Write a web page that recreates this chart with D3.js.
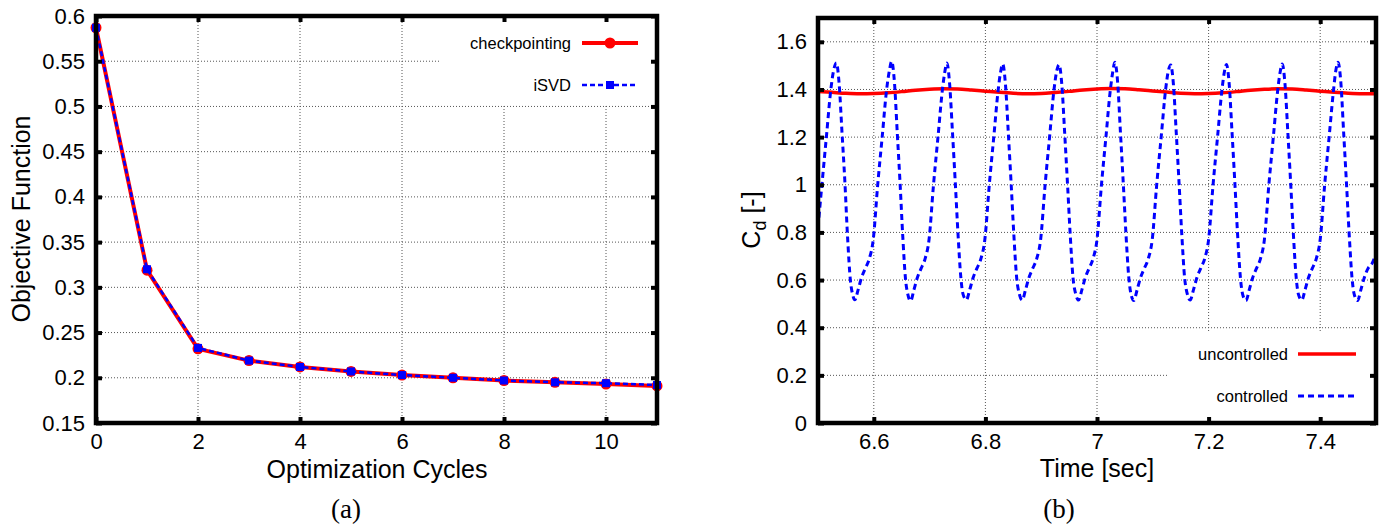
<!DOCTYPE html>
<html>
<head>
<meta charset="utf-8">
<script src="https://cdn.jsdelivr.net/npm/d3@7"></script>
<style>
  body { margin: 0; background: #fff; }
  text { font-family: "Liberation Sans", Arial, sans-serif; fill: #000; }
  .caption { font-family: "Liberation Serif", "DejaVu Serif", serif; }
</style>
</head>
<body>
<svg id="chart" width="1400" height="530"></svg>
<script>
// ---- (a) objective function vs optimization cycle
const cycles = [0, 1, 2, 3, 4, 5, 6, 7, 8, 9, 10, 11]
const checkpointing = [0.587, 0.319, 0.232, 0.219, 0.212, 0.207, 0.203, 0.200, 0.197, 0.195, 0.193, 0.191]
const isvd = [0.587, 0.320, 0.233, 0.219, 0.212, 0.207, 0.203, 0.200, 0.197, 0.195, 0.194, 0.192]
const cycleTicks = [0, 2, 4, 6, 8, 10]
const objTicks = [0.15, 0.2, 0.25, 0.3, 0.35, 0.4, 0.45, 0.5, 0.55, 0.6]

// ---- (b) drag coefficient vs time
const uncTime = [6.500, 6.525, 6.550, 6.575, 6.600, 6.625, 6.650, 6.675, 6.700, 6.725,
  6.750, 6.775, 6.800, 6.825, 6.850, 6.875, 6.900, 6.925, 6.950, 6.975,
  7.000, 7.025, 7.050, 7.075, 7.100, 7.125, 7.150, 7.175, 7.200, 7.225,
  7.250, 7.275, 7.300, 7.325, 7.350, 7.375, 7.400, 7.425, 7.450, 7.475, 7.500]
const uncCd = [1.392, 1.388, 1.384, 1.382, 1.383, 1.386, 1.391, 1.397, 1.401, 1.403,
  1.402, 1.398, 1.393, 1.388, 1.384, 1.382, 1.383, 1.387, 1.392, 1.398,
  1.402, 1.404, 1.403, 1.399, 1.394, 1.389, 1.384, 1.382, 1.383, 1.386,
  1.391, 1.397, 1.401, 1.403, 1.402, 1.398, 1.393, 1.388, 1.384, 1.382, 1.382]

const ctrlTime = [
  6.500, 6.507, 6.515, 6.523, 6.528,
  6.533, 6.538, 6.543, 6.548, 6.553, 6.558, 6.562, 6.566, 6.572, 6.578, 6.585, 6.592, 6.599, 6.607, 6.615, 6.623, 6.628,
  6.632, 6.637, 6.642, 6.647, 6.652, 6.657, 6.661, 6.666, 6.672, 6.678, 6.685, 6.692, 6.699, 6.707, 6.715, 6.723, 6.727,
  6.731, 6.736, 6.741, 6.746, 6.751, 6.756, 6.760, 6.766, 6.772, 6.778, 6.785, 6.792, 6.799, 6.807, 6.815, 6.823, 6.827,
  6.831, 6.836, 6.841, 6.846, 6.851, 6.856, 6.861, 6.866, 6.872, 6.878, 6.885, 6.892, 6.899, 6.907, 6.915, 6.923, 6.928,
  6.932, 6.937, 6.942, 6.947, 6.952, 6.957, 6.962, 6.967, 6.973, 6.979, 6.986, 6.993, 7.000, 7.008, 7.016, 7.024, 7.028,
  7.032, 7.037, 7.042, 7.047, 7.052, 7.057, 7.061, 7.066, 7.072, 7.078, 7.085, 7.092, 7.099, 7.107, 7.115, 7.123, 7.128,
  7.132, 7.137, 7.142, 7.147, 7.152, 7.157, 7.162, 7.167, 7.173, 7.179, 7.186, 7.193, 7.200, 7.208, 7.216, 7.224, 7.228,
  7.232, 7.237, 7.242, 7.247, 7.252, 7.257, 7.261, 7.267, 7.273, 7.279, 7.286, 7.293, 7.300, 7.308, 7.316, 7.324, 7.328,
  7.332, 7.337, 7.342, 7.347, 7.352, 7.357, 7.361, 7.367, 7.373, 7.379, 7.386, 7.393, 7.400, 7.408, 7.416, 7.424, 7.428,
  7.432, 7.437, 7.442, 7.447, 7.452, 7.457, 7.461, 7.467, 7.473, 7.479, 7.486, 7.493, 7.500]
const ctrlCd = [
  0.82, 1.00, 1.20, 1.40, 1.48,
  1.511, 1.42, 1.22, 1.02, 0.78, 0.60, 0.54, 0.517, 0.56, 0.61, 0.65, 0.69, 0.77, 1.00, 1.20, 1.40, 1.48,
  1.518, 1.43, 1.22, 1.01, 0.78, 0.60, 0.54, 0.512, 0.56, 0.61, 0.65, 0.69, 0.77, 1.00, 1.20, 1.40, 1.47,
  1.511, 1.42, 1.22, 1.01, 0.79, 0.61, 0.54, 0.517, 0.56, 0.61, 0.65, 0.69, 0.77, 1.00, 1.20, 1.40, 1.47,
  1.507, 1.42, 1.22, 1.01, 0.79, 0.61, 0.54, 0.516, 0.56, 0.61, 0.65, 0.69, 0.77, 1.00, 1.20, 1.40, 1.48,
  1.504, 1.42, 1.22, 1.01, 0.79, 0.61, 0.54, 0.516, 0.56, 0.61, 0.65, 0.69, 0.77, 1.00, 1.20, 1.40, 1.47,
  1.514, 1.43, 1.22, 1.01, 0.79, 0.61, 0.54, 0.514, 0.56, 0.61, 0.65, 0.69, 0.77, 1.00, 1.20, 1.40, 1.48,
  1.503, 1.42, 1.22, 1.01, 0.79, 0.61, 0.54, 0.516, 0.56, 0.61, 0.65, 0.69, 0.77, 1.00, 1.20, 1.40, 1.47,
  1.505, 1.42, 1.22, 1.01, 0.79, 0.61, 0.54, 0.514, 0.56, 0.61, 0.65, 0.69, 0.77, 1.00, 1.20, 1.40, 1.47,
  1.507, 1.42, 1.22, 1.01, 0.79, 0.61, 0.54, 0.516, 0.56, 0.61, 0.65, 0.69, 0.77, 1.00, 1.20, 1.40, 1.48,
  1.514, 1.43, 1.22, 1.01, 0.79, 0.61, 0.54, 0.514, 0.56, 0.61, 0.65, 0.67, 0.71]
const timeTicks = [6.6, 6.8, 7, 7.2, 7.4]
const cdTicks = [0, 0.2, 0.4, 0.6, 0.8, 1, 1.2, 1.4, 1.6]

const svg = d3.select('#chart')
const fmt = d => String(+d.toFixed(2))

// frame, grid, ticks shared by both panels
function drawFrame (p) {
  const g = svg.append('g')
  const [x0, x1] = p.x.range()
  const [y1, y0] = p.y.range()

  // dotted grid
  const grid = g.append('g')
    .attr('stroke', '#555').attr('stroke-width', 1).attr('stroke-dasharray', '1,2')
  grid.selectAll('.gx').data(p.xTicks).enter().append('line')
    .attr('x1', d => p.x(d)).attr('x2', d => p.x(d))
    .attr('y1', y0).attr('y2', y1)
  grid.selectAll('.gy').data(p.yTicks).enter().append('line')
    .attr('x1', x0).attr('x2', x1)
    .attr('y1', d => p.y(d)).attr('y2', d => p.y(d))

  // key area blanks the grid behind it
  g.append('rect')
    .attr('x', p.key.x).attr('y', p.key.y)
    .attr('width', x1 - p.key.x).attr('height', p.key.h)
    .attr('fill', '#fff')
  return g
}

function drawAxes (p) {
  const [x0, x1] = p.x.range()
  const [y1, y0] = p.y.range()
  const g = svg.append('g')
  const tickStyle = sel => {
    sel.select('.domain').remove()
    sel.selectAll('.tick line').attr('stroke', '#000').attr('stroke-width', 4)
    sel.selectAll('.tick text').attr('font-size', 22).attr('font-family', '"Liberation Sans", Arial, sans-serif')
  }
  g.append('g').attr('transform', `translate(0,${y1})`)
    .call(d3.axisBottom(p.x).tickValues(p.xTicks).tickSize(-6).tickPadding(10).tickFormat(fmt))
    .call(tickStyle)
  g.append('g').attr('transform', `translate(0,${y0})`)
    .call(d3.axisTop(p.x).tickValues(p.xTicks).tickSize(-6).tickFormat(''))
    .call(tickStyle)
  g.append('g').attr('transform', `translate(${x0},0)`)
    .call(d3.axisLeft(p.y).tickValues(p.yTicks).tickSize(-6).tickPadding(11).tickFormat(fmt))
    .call(tickStyle)
  g.append('g').attr('transform', `translate(${x1},0)`)
    .call(d3.axisRight(p.y).tickValues(p.yTicks).tickSize(-6).tickFormat(''))
    .call(tickStyle)

  g.append('rect')
    .attr('x', x0).attr('y', y0).attr('width', x1 - x0).attr('height', y1 - y0)
    .attr('fill', 'none').attr('stroke', '#000').attr('stroke-width', 4.5)
}

// ---------------- panel (a)
const xa = d3.scaleLinear().domain([0, 11]).range([96, 657])
const ya = d3.scaleLinear().domain([0.15, 0.6]).range([423, 16])
const pa = { x: xa, y: ya, xTicks: cycleTicks, yTicks: objTicks, key: { x: 440, y: 18, h: 86 } }
drawFrame(pa)

const lineA = d3.line().x(d => xa(d[0])).y(d => ya(d[1]))
const ckData = cycles.map((c, i) => [c, checkpointing[i]])
const svdData = cycles.map((c, i) => [c, isvd[i]])

svg.append('path').datum(ckData)
  .attr('d', lineA).attr('fill', 'none')
  .attr('stroke', '#ff0000').attr('stroke-width', 4).attr('stroke-linejoin', 'round')
svg.selectAll('.ck').data(ckData).enter().append('circle')
  .attr('cx', d => xa(d[0])).attr('cy', d => ya(d[1])).attr('r', 5.5)
  .attr('fill', '#ff0000')
svg.append('path').datum(svdData)
  .attr('d', lineA).attr('fill', 'none')
  .attr('stroke', '#0000ff').attr('stroke-width', 2.5).attr('stroke-dasharray', '5,3')
svg.selectAll('.sv').data(svdData).enter().append('rect')
  .attr('x', d => xa(d[0]) - 4).attr('y', d => ya(d[1]) - 4)
  .attr('width', 8).attr('height', 8).attr('fill', '#0000ff')

// legend (a)
const legA = svg.append('g').attr('font-size', 16.5)
legA.append('text').attr('x', 571).attr('y', 49).attr('text-anchor', 'end').text('checkpointing')
legA.append('line').attr('x1', 582).attr('x2', 638).attr('y1', 43).attr('y2', 43)
  .attr('stroke', '#ff0000').attr('stroke-width', 4)
legA.append('circle').attr('cx', 610).attr('cy', 43).attr('r', 5.5).attr('fill', '#ff0000')
legA.append('text').attr('x', 571).attr('y', 91).attr('text-anchor', 'end').text('iSVD')
legA.append('line').attr('x1', 582).attr('x2', 638).attr('y1', 85).attr('y2', 85)
  .attr('stroke', '#0000ff').attr('stroke-width', 2.5).attr('stroke-dasharray', '5,3')
legA.append('rect').attr('x', 606).attr('y', 81).attr('width', 8).attr('height', 8).attr('fill', '#0000ff')

drawAxes(pa)

svg.append('text').attr('x', 377).attr('y', 478).attr('text-anchor', 'middle')
  .attr('font-size', 25).text('Optimization Cycles')
svg.append('text').attr('transform', 'translate(30,219) rotate(-90)').attr('text-anchor', 'middle')
  .attr('font-size', 25).text('Objective Function')
svg.append('text').attr('class', 'caption').attr('x', 346).attr('y', 518).attr('text-anchor', 'middle')
  .attr('font-size', 27).text('(a)')

// ---------------- panel (b)
const xb = d3.scaleLinear().domain([6.5, 7.5]).range([818, 1376])
const yb = d3.scaleLinear().domain([0, 1.7]).range([423, 18])
const pb = { x: xb, y: yb, xTicks: timeTicks, yTicks: cdTicks, key: { x: 1169, y: 331, h: 90 } }
drawFrame(pb)

svg.append('clipPath').attr('id', 'clipB').append('rect')
  .attr('x', 818).attr('y', 18).attr('width', 558).attr('height', 405)

const lineB = d3.line().x(d => xb(d[0])).y(d => yb(d[1])).curve(d3.curveMonotoneX)
svg.append('path').datum(uncTime.map((t, i) => [t, uncCd[i]]))
  .attr('clip-path', 'url(#clipB)')
  .attr('d', lineB).attr('fill', 'none')
  .attr('stroke', '#ff0000').attr('stroke-width', 3.5)
svg.append('path').datum(ctrlTime.map((t, i) => [t, ctrlCd[i]]))
  .attr('clip-path', 'url(#clipB)')
  .attr('d', lineB).attr('fill', 'none')
  .attr('stroke', '#0000ff').attr('stroke-width', 3).attr('stroke-dasharray', '6,4')

// legend (b)
const legB = svg.append('g').attr('font-size', 16.5)
legB.append('text').attr('x', 1288).attr('y', 360).attr('text-anchor', 'end').text('uncontrolled')
legB.append('line').attr('x1', 1298).attr('x2', 1356).attr('y1', 354).attr('y2', 354)
  .attr('stroke', '#ff0000').attr('stroke-width', 3.5)
legB.append('text').attr('x', 1288).attr('y', 402).attr('text-anchor', 'end').text('controlled')
legB.append('line').attr('x1', 1298).attr('x2', 1356).attr('y1', 396).attr('y2', 396)
  .attr('stroke', '#0000ff').attr('stroke-width', 3).attr('stroke-dasharray', '6,4')

drawAxes(pb)

svg.append('text').attr('x', 1097).attr('y', 477).attr('text-anchor', 'middle')
  .attr('font-size', 25).text('Time [sec]')
const cdLabel = svg.append('text').attr('transform', 'translate(760,220) rotate(-90)')
  .attr('text-anchor', 'middle').attr('font-size', 25)
cdLabel.append('tspan').text('C')
cdLabel.append('tspan').attr('font-size', 18).attr('dy', 6).text('d')
cdLabel.append('tspan').attr('dy', -6).text(' [-]')
svg.append('text').attr('class', 'caption').attr('x', 1059).attr('y', 518).attr('text-anchor', 'middle')
  .attr('font-size', 27).text('(b)')
</script>
</body>
</html>
